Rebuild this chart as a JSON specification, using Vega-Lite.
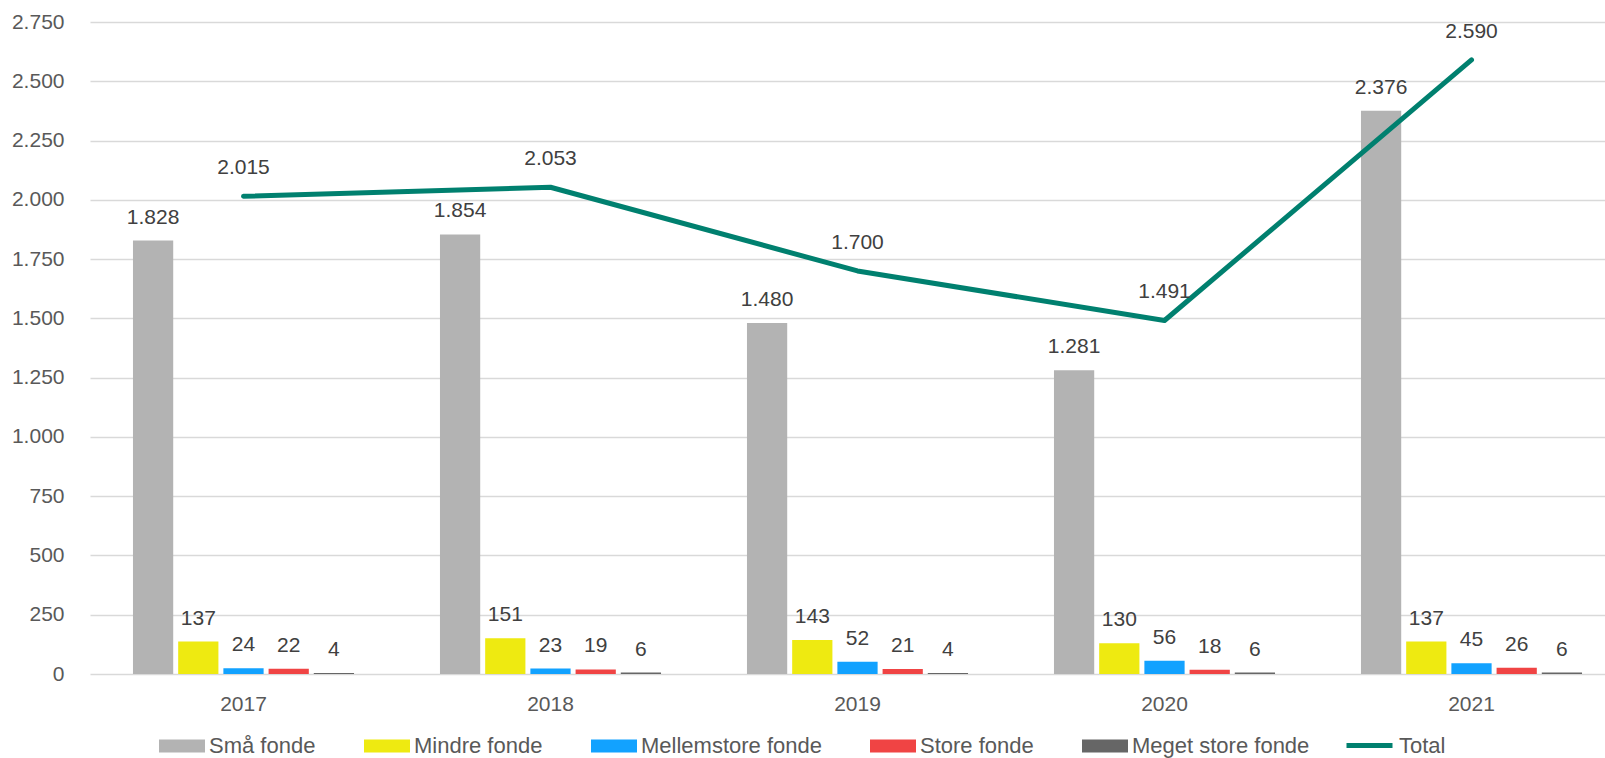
{
  "$schema": "https://vega.github.io/schema/vega-lite/v6.json",
  "width": 1515,
  "height": 652,
  "autosize": {"type": "none"},
  "padding": {"left": 90, "top": 22, "right": 0, "bottom": 84},
  "config": {
    "locale": {"number": {"decimal": ",", "thousands": ".", "grouping": [3], "currency": ["", " kr."]}},
    "view": {"stroke": null},
    "font": "Liberation Sans",
    "text": {"font": "Liberation Sans", "fontSize": 21, "fill": "#404040"}
  },
  "datasets": {
    "bars": [
      {"year": "2017", "fond": "Små fonde", "value": 1828},
      {"year": "2017", "fond": "Mindre fonde", "value": 137},
      {"year": "2017", "fond": "Mellemstore fonde", "value": 24},
      {"year": "2017", "fond": "Store fonde", "value": 22},
      {"year": "2017", "fond": "Meget store fonde", "value": 4},
      {"year": "2018", "fond": "Små fonde", "value": 1854},
      {"year": "2018", "fond": "Mindre fonde", "value": 151},
      {"year": "2018", "fond": "Mellemstore fonde", "value": 23},
      {"year": "2018", "fond": "Store fonde", "value": 19},
      {"year": "2018", "fond": "Meget store fonde", "value": 6},
      {"year": "2019", "fond": "Små fonde", "value": 1480},
      {"year": "2019", "fond": "Mindre fonde", "value": 143},
      {"year": "2019", "fond": "Mellemstore fonde", "value": 52},
      {"year": "2019", "fond": "Store fonde", "value": 21},
      {"year": "2019", "fond": "Meget store fonde", "value": 4},
      {"year": "2020", "fond": "Små fonde", "value": 1281},
      {"year": "2020", "fond": "Mindre fonde", "value": 130},
      {"year": "2020", "fond": "Mellemstore fonde", "value": 56},
      {"year": "2020", "fond": "Store fonde", "value": 18},
      {"year": "2020", "fond": "Meget store fonde", "value": 6},
      {"year": "2021", "fond": "Små fonde", "value": 2376},
      {"year": "2021", "fond": "Mindre fonde", "value": 137},
      {"year": "2021", "fond": "Mellemstore fonde", "value": 45},
      {"year": "2021", "fond": "Store fonde", "value": 26},
      {"year": "2021", "fond": "Meget store fonde", "value": 6}
    ],
    "total": [
      {"year": "2017", "serie": "Total", "value": 2015},
      {"year": "2018", "serie": "Total", "value": 2053},
      {"year": "2019", "serie": "Total", "value": 1700},
      {"year": "2020", "serie": "Total", "value": 1491},
      {"year": "2021", "serie": "Total", "value": 2590}
    ]
  },
  "encoding": {
    "x": {
      "field": "year", "type": "nominal", "title": null,
      "scale": {"range": [0, 1535], "paddingInner": 0.28, "paddingOuter": 0.14},
      "axis": {"labelAngle": 0, "domain": false, "ticks": false, "labelFontSize": 21, "labelColor": "#595959", "labelPadding": 19, "labelFont": "Liberation Sans"}
    },
    "y": {
      "field": "value", "type": "quantitative", "title": null,
      "scale": {"domain": [0, 2750], "nice": false, "zero": true},
      "axis": {"values": [0, 250, 500, 750, 1000, 1250, 1500, 1750, 2000, 2250, 2500, 2750], "format": ",.0f", "domain": false, "ticks": false, "grid": true, "gridColor": "#D9D9D9", "gridWidth": 1.5, "labelFontSize": 21, "labelColor": "#595959", "labelPadding": 26, "labelFont": "Liberation Sans"}
    }
  },
  "layer": [
    {
      "data": {"name": "bars"},
      "encoding": {
        "xOffset": {"field": "fond", "type": "nominal", "sort": ["Små fonde", "Mindre fonde", "Mellemstore fonde", "Store fonde", "Meget store fonde"], "scale": {"paddingInner": 0.11, "paddingOuter": 0}}
      },
      "layer": [
        {
          "mark": {"type": "bar"},
          "encoding": {
            "color": {
              "field": "fond", "type": "nominal",
              "scale": {"domain": ["Små fonde", "Mindre fonde", "Mellemstore fonde", "Store fonde", "Meget store fonde"], "range": ["#B3B3B3", "#EEEA11", "#12A2FF", "#F04444", "#666666"]},
              "legend": {"orient": "none", "direction": "horizontal", "columns": 5, "legendX": 69, "legendY": 701, "title": null, "symbolType": "M-1,-0.28H1V0.28H-1Z", "symbolSize": 2116, "symbolStrokeWidth": 0, "symbolOpacity": 1, "labelFontSize": 22, "labelColor": "#595959", "labelFont": "Liberation Sans", "labelLimit": 400, "columnPadding": 48, "labelOffset": 4}
            }
          }
        },
        {
          "mark": {"type": "text", "dy": -23, "align": "center", "baseline": "middle"},
          "encoding": {"text": {"field": "value", "type": "quantitative", "format": ",.0f"}}
        }
      ]
    },
    {
      "data": {"name": "total"},
      "layer": [
        {
          "mark": {"type": "line", "strokeWidth": 5, "strokeCap": "round", "strokeJoin": "round"},
          "encoding": {
            "color": {
              "field": "serie", "type": "nominal",
              "scale": {"domain": ["Total"], "range": ["#00806F"]},
              "legend": {"orient": "none", "direction": "horizontal", "legendX": 1254, "legendY": 698, "title": null, "symbolType": "stroke", "symbolSize": 2116, "symbolStrokeWidth": 5, "labelFontSize": 22, "labelColor": "#595959", "labelFont": "Liberation Sans", "labelLimit": 400, "labelOffset": 4}
            }
          }
        },
        {
          "mark": {"type": "text", "dy": -28, "align": "center", "baseline": "middle"},
          "encoding": {"text": {"field": "value", "type": "quantitative", "format": ",.0f"}}
        }
      ]
    }
  ],
  "resolve": {"scale": {"color": "independent"}}
}
